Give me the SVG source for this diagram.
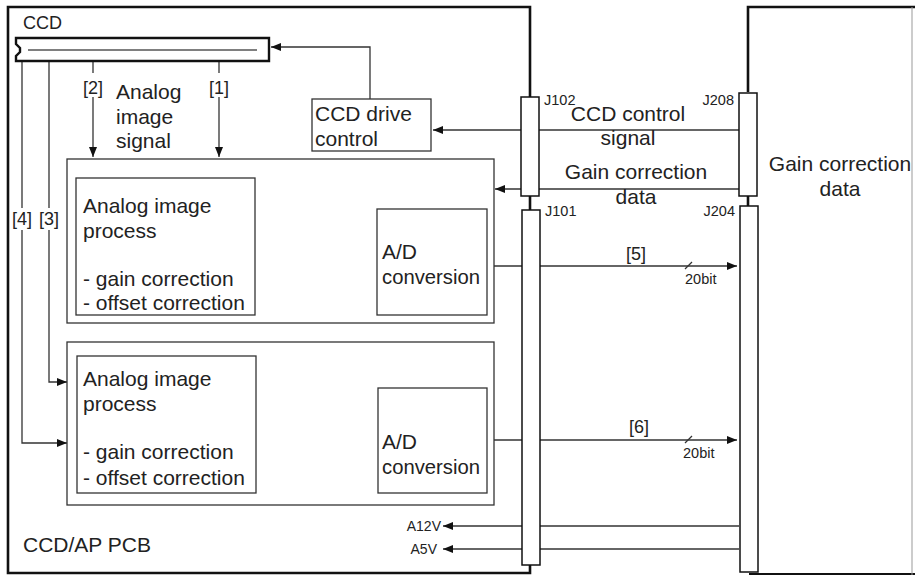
<svg xmlns="http://www.w3.org/2000/svg" width="915" height="576" viewBox="0 0 915 576">
<style>
text{font-family:"Liberation Sans",Arial,sans-serif;fill:#222}
.t18{font-size:21px}
.t15{font-size:18px}
.t12{font-size:14.5px}
.t11{font-size:14px}
.box{fill:#fff;stroke:#333;stroke-width:1.3}
.board{fill:none;stroke:#111;stroke-width:2.6}
.conn{fill:#fff;stroke:#111;stroke-width:1.5}
.ln{fill:none;stroke:#333;stroke-width:1.3}
.arr{fill:none;stroke:#333;stroke-width:1.3;marker-end:url(#ah)}
.lbl{fill:#fff}
</style>
<defs>
<marker id="ah" markerWidth="10" markerHeight="8" refX="10" refY="4" orient="auto" markerUnits="userSpaceOnUse">
<path d="M0,0 L10,4 L0,8 Z" fill="#111"/>
</marker>
</defs>
<rect width="915" height="576" fill="#fff"/>

<g id="pcb-board">
<path class="board" d="M530,97 V7 H8 V573 H530 V565"/>
<path class="board" d="M530,196 V210"/>
<text class="t18" x="23" y="552">CCD/AP PCB</text>
</g>

<g id="right-board">
<path class="board" d="M748,92 V7 H915"/>
<path class="board" d="M748,196 V206"/>
<path d="M749,574 H915" fill="none" stroke="#111" stroke-width="2"/>
<path d="M912,7 V575" fill="none" stroke="#999" stroke-width="1"/>
<text class="t18" x="840" y="171" text-anchor="middle">Gain correction</text>
<text class="t18" x="840" y="196" text-anchor="middle">data</text>
</g>

<g id="connectors">
<path class="arr" d="M370,100 V47 H271"/>
<path class="arr" d="M739,130 H433"/>
<path class="arr" d="M739,189 H495"/>
<path class="arr" d="M93,97 V157"/>
<path class="ln" d="M93,62 V73"/>
<path class="arr" d="M219,97 V157"/>
<path class="ln" d="M219,62 V73"/>
<path class="arr" d="M49,62 V382 H67"/>
<path class="arr" d="M22,62 V443 H67"/>
<path class="arr" d="M255,234 H376"/>
<path class="arr" d="M255,296 H376"/>
<path class="arr" d="M256,412 H377"/>
<path class="arr" d="M256,473 H377"/>
<path class="ln" d="M487,266 H522"/>
<path class="arr" d="M540,266 H737"/>
<path class="ln" d="M487,440 H522"/>
<path class="arr" d="M540,440 H737"/>
<path class="ln" d="M685,269 L692,262"/>
<path class="ln" d="M685,443 L692,436"/>
<path class="ln" d="M739,526 H540"/>
<path class="arr" d="M522,526 H443"/>
<path class="ln" d="M739,549 H540"/>
<path class="arr" d="M522,549 H443"/>
<rect class="lbl" x="11" y="208" width="22" height="22"/>
<rect class="lbl" x="38" y="208" width="22" height="22"/>
<text class="t15" x="22" y="225" text-anchor="middle">[4]</text>
<text class="t15" x="49" y="225" text-anchor="middle">[3]</text>
<text class="t15" x="93" y="94" text-anchor="middle">[2]</text>
<text class="t15" x="219" y="94" text-anchor="middle">[1]</text>
<text class="t15" x="305" y="231" text-anchor="middle">[1]</text>
<text class="t15" x="305" y="292" text-anchor="middle">[2]</text>
<text class="t15" x="306" y="407" text-anchor="middle">[3]</text>
<text class="t15" x="306" y="468" text-anchor="middle">[4]</text>
<text class="t15" x="636" y="260" text-anchor="middle">[5]</text>
<text class="t15" x="639" y="433" text-anchor="middle">[6]</text>
<text class="t12" x="685" y="284">20bit</text>
<text class="t12" x="683" y="458">20bit</text>
<text class="t11" x="441" y="531" text-anchor="end">A12V</text>
<text class="t11" x="437" y="554" text-anchor="end">A5V</text>
<text class="t18" x="628" y="121" text-anchor="middle">CCD control</text>
<text class="t18" x="628" y="145" text-anchor="middle">signal</text>
<text class="t18" x="636" y="179" text-anchor="middle">Gain correction</text>
<text class="t18" x="636" y="204" text-anchor="middle">data</text>
<text class="t18" x="116" y="99">Analog</text>
<text class="t18" x="116" y="124">image</text>
<text class="t18" x="116" y="148">signal</text>
</g>

<g id="J102">
<rect class="conn" x="521" y="97" width="18" height="99"/>
<text class="t12" x="544" y="105">J102</text>
</g>
<g id="J101">
<rect class="conn" x="522" y="210" width="18" height="355"/>
<text class="t12" x="545" y="216">J101</text>
</g>
<g id="J208">
<rect class="conn" x="739" y="93" width="18" height="103"/>
<text class="t12" x="734" y="105" text-anchor="end">J208</text>
</g>
<g id="J204">
<rect class="conn" x="740" y="206" width="18" height="366"/>
<text class="t12" x="735" y="216" text-anchor="end">J204</text>
</g>

<g id="ccd">
<text class="t15" x="23" y="29">CCD</text>
<path d="M16,38 H269 V61 H16 V56 L20,52 V48 L16,44 Z" fill="#fff" stroke="#111" stroke-width="2.4"/>
<path d="M28,50 H257" stroke="#555" stroke-width="1.3"/>
</g>

<g id="ccd-drive-control">
<rect class="box" x="312" y="99" width="119" height="52"/>
<text class="t18" x="315" y="121">CCD drive</text>
<text class="t18" x="315" y="146">control</text>
</g>

<g id="ap-block-1">
<rect class="box" x="67" y="159" width="427" height="164" stroke="#111"/>
</g>
<g id="analog-process-1">
<rect class="box" x="76" y="178" width="179" height="137"/>
<text class="t18" x="83" y="213">Analog image</text>
<text class="t18" x="83" y="238">process</text>
<text class="t18" x="83" y="286">- gain correction</text>
<text class="t18" x="83" y="310">- offset correction</text>
</g>
<g id="ad-1">
<rect class="box" x="377" y="209" width="110" height="106"/>
<text class="t18" x="382" y="259">A/D</text>
<text class="t18" x="382" y="284" textLength="98" lengthAdjust="spacingAndGlyphs">conversion</text>
</g>

<g id="ap-block-2">
<rect class="box" x="67" y="342" width="427" height="163"/>
</g>
<g id="analog-process-2">
<rect class="box" x="77" y="356" width="179" height="137"/>
<text class="t18" x="83" y="386">Analog image</text>
<text class="t18" x="83" y="411">process</text>
<text class="t18" x="83" y="459">- gain correction</text>
<text class="t18" x="83" y="485">- offset correction</text>
</g>
<g id="ad-2">
<rect class="box" x="378" y="388" width="109" height="105"/>
<text class="t18" x="382" y="449">A/D</text>
<text class="t18" x="382" y="474" textLength="98" lengthAdjust="spacingAndGlyphs">conversion</text>
</g>
</svg>
